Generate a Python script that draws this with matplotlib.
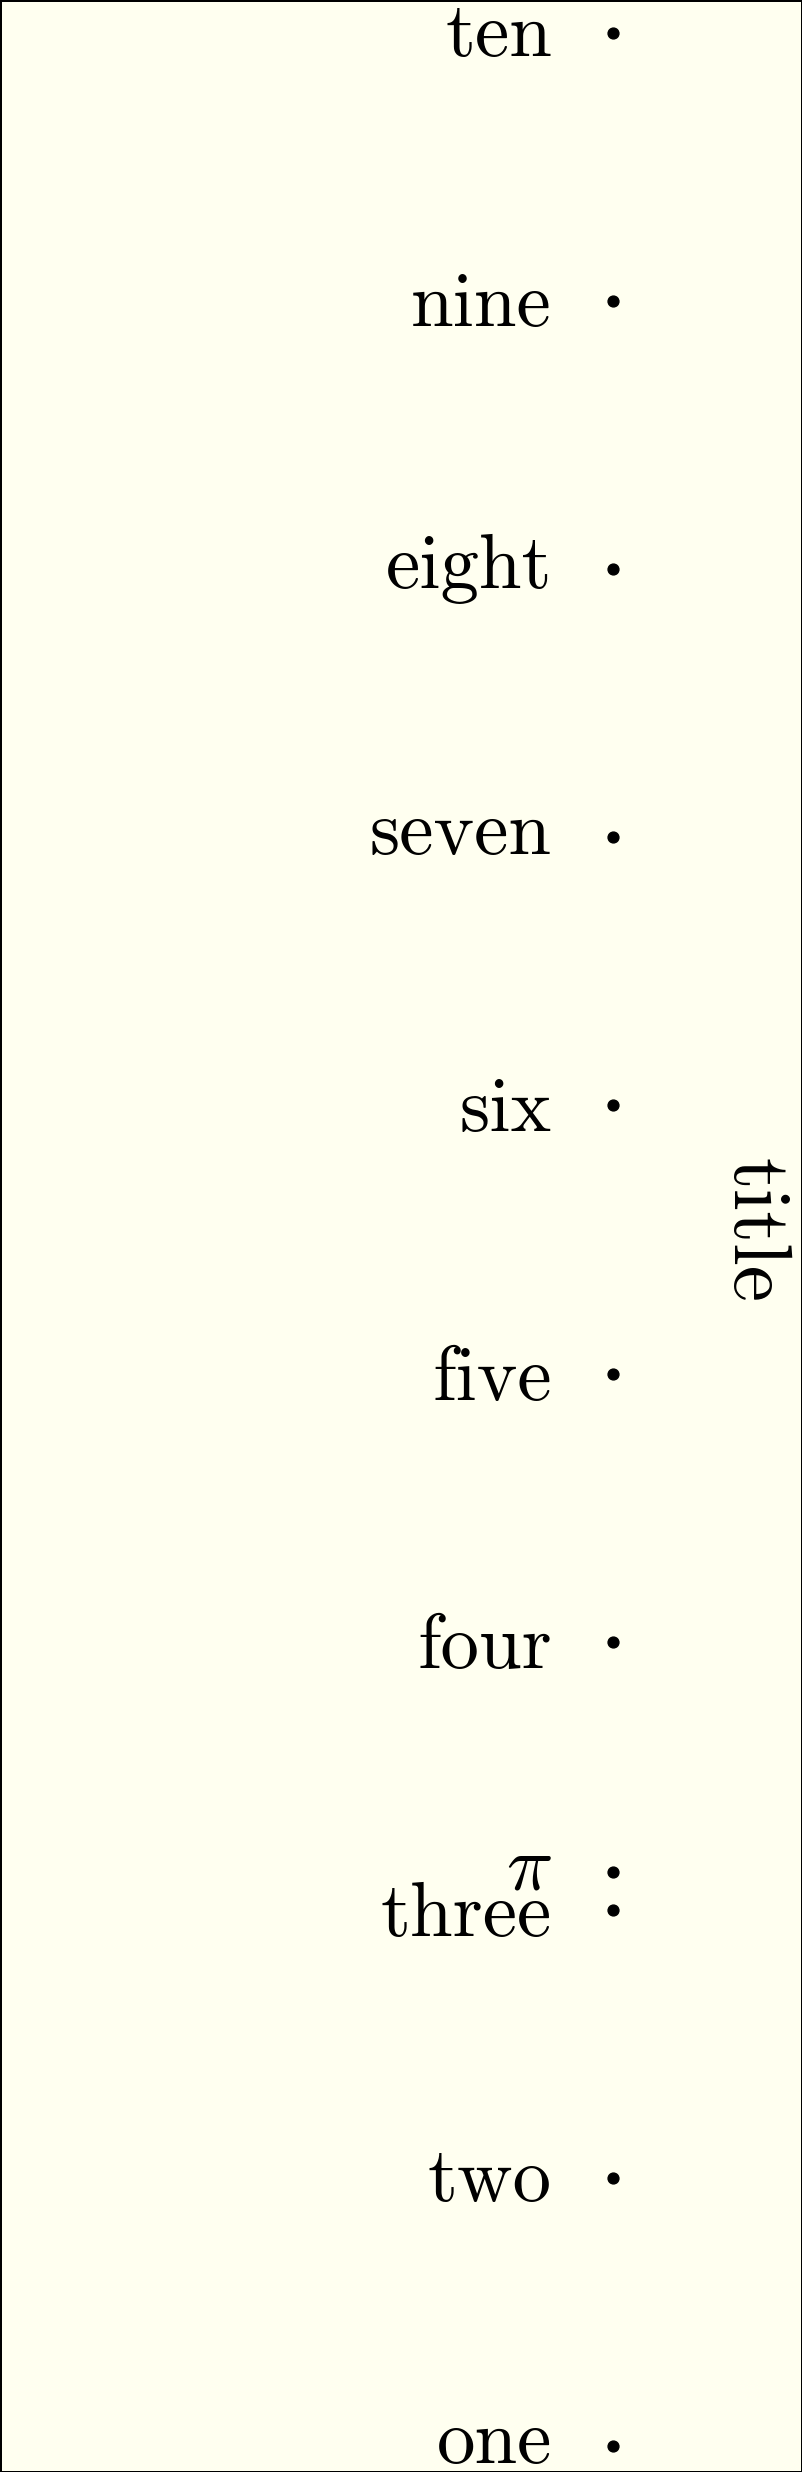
import numpy as np
import matplotlib.pyplot as plt
import matplotlib.transforms as mtransforms
from matplotlib.textpath import TextPath
from matplotlib.font_manager import FontProperties

plt.rcParams['font.family'] = 'cmr10'
plt.rcParams['mathtext.fontset'] = 'cm'
plt.rcParams['axes.unicode_minus'] = False

# tick values and their word labels
values = [1, 2, 3, 4, 5, 6, 7, 8, 9, 10]
names = ['one', 'two', 'three', 'four', 'five', 'six', 'seven', 'eight', 'nine', 'ten']
# extra minor tick
extra_value = [np.pi]
extra_name = [r'$\pi$']

sz = 55.4

fig = plt.figure(figsize=(8.02, 24.72), dpi=100, facecolor='ivory',
                 edgecolor='black', linewidth=2)
ax = fig.add_axes([570 / 802, 0, 232 / 802, 1])
ax.set_facecolor('none')

ax.plot([0] * len(values), values, 'ko', ms=7.8, ls='none')
ax.plot([0] * len(extra_value), extra_value, 'ko', ms=7.8, ls='none')

ax.set_xlim(-0.2, 0.88)
ax.set_ylim(0.903, 10.123)

ax.set_yticks(values, names, fontsize=sz)
ax.set_yticks(extra_value, extra_name, minor=True, fontsize=sz)
ax.tick_params(axis='y', which='both', length=0, pad=13)
ax.set_xticks([])
for s in ax.spines.values():
    s.set_visible(False)

# center each label on the ink of its glyphs (like TeX boxes), not the font line
prop = FontProperties(family='cmr10')
ticks = ax.yaxis.get_major_ticks(len(values)) + ax.yaxis.get_minor_ticks(len(extra_value))
for t, txt in zip(ticks, names + extra_name):
    ext = TextPath((0, 0), txt, size=1, prop=prop).get_extents()
    mid = (ext.y0 + ext.y1) / 2
    lab = t.label1
    lab.set_verticalalignment('baseline')
    lab.set_transform(lab.get_transform() +
                      mtransforms.ScaledTranslation(0, -mid * sz / 72, fig.dpi_scale_trans))

ax.yaxis.set_label_position('right')
ax.set_ylabel('title', fontsize=59, rotation=270, ha='center', va='center')
ax.yaxis.set_label_coords(0.791, 0.502)

fig.savefig('out.png', dpi=100)
